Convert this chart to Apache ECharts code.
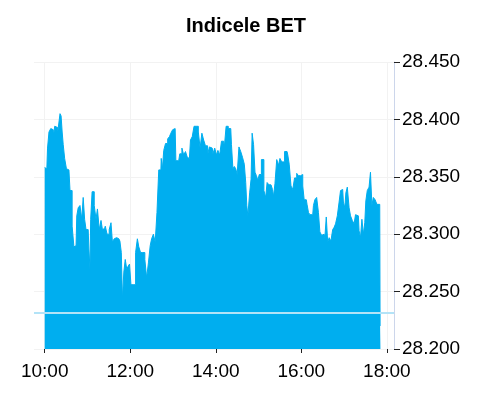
<!DOCTYPE html>
<html>
<head>
<meta charset="utf-8">
<script src="https://cdn.jsdelivr.net/npm/echarts@6/dist/echarts.min.js"></script>
<style>html,body{margin:0;padding:0;background:#fff}#c{width:492px;height:400px}</style>
</head>
<body>
<div id="c"></div>
<script>
// minutes after 10:00
var minutes = [0,3,5,7,10,12,13,15,18,19,21,22,24,25,27,29,32,34,37,40,42,44,46,48,51,53,55,57,59,61,63,64,65,68,71,73,75,78,80,
82,84,86,89,92,94,96,99,101,104,107,108,110,112,114,116,118,120,122,126,129,131,133,136,139,142,144,147,149,151,154,156,159,161,163,164,
166,168,171,174,176,178,181,183,185,188,191,194,196,199,201,203,206,208,211,214,217,219,222,224,227,230,232,235,237,240,242,244,247,249,
251,253,256,259,261,263,265,267,269,271,274,276,279,281,283,284,286,289,290,292,294,296,298,300,302,306,309,311,313,316,319,320,322,324,327,329,331,334,
335,338,340,342,344,347,349,352,355,357,361,363,365,367,369,371,373,376,378,380,383,385,387,390,392,394,396,398,400,403,405,407,409,412,414,416,418,
420,422,423,426,428,430,433,435,437,440,442,444,446,448,450,451,454,456,458,460,462,465,467,470,471];
var values = [28358,28357,28375,28389,28392,28391,28386,28394,28393,28390,28391,28405,28403,28389,28378,28366,28357,28356,28338,28307,28289,28290,28316,28323,28325,28313,28332,28313,28304,28304,28287,28270,28313,28337,28325,28313,28322,28304,28312,
28304,28305,28307,28300,28304,28310,28293,28296,28297,28296,28294,28284,28243,28267,28278,28270,28272,28274,28256,28256,28284,28296,28289,28284,28284,28278,28262,28275,28290,28296,28300,28293,28319,28356,28356,28366,
28356,28373,28379,28383,28385,28388,28391,28392,28364,28364,28370,28375,28369,28372,28367,28366,28382,28385,28394,28394,28389,28375,28388,28382,28377,28369,28376,28375,28370,28375,28369,28373,28369,28381,
28381,28376,28394,28392,28392,28378,28357,28359,28357,28352,28376,28372,28367,28361,28345,28325,28316,28336,28348,28388,28378,28354,28351,28347,28352,28365,28338,28332,28345,28343,28344,28339,28333,28344,28365,28360,28366,28363,
28363,28372,28372,28369,28361,28342,28339,28349,28353,28351,28352,28342,28330,28330,28326,28319,28317,28317,28325,28330,28332,28319,28302,28299,28300,28297,28315,28293,28297,28294,28304,28306,28309,28316,28328,28338,28339,
28328,28323,28336,28341,28323,28316,28312,28309,28317,28316,28303,28297,28313,28300,28310,28329,28338,28341,28354,28325,28332,28330,28326,28326,28220];
var referenceValue = 28232;
var xTickMinutes = [600,720,840,960,1080];
var xTickLabels = ['10:00','12:00','14:00','16:00','18:00'];
var yTicks = [28200,28250,28300,28350,28400,28450];
var titleText = 'Indicele BET';

var data = minutes.map(function(m,i){return [600+m, values[i]];});
var chart = echarts.init(document.getElementById('c'), null, {renderer:'canvas'});
var font = 'Liberation Sans, Arial, sans-serif';
chart.setOption({
  animation:false,
  backgroundColor:'#ffffff',
  title:{text:titleText,left:'center',top:11,textStyle:{fontFamily:font,fontSize:20,fontWeight:'bold',color:'#000'}},
  grid:{left:34,right:98,top:62,bottom:51,containLabel:false},
  xAxis:{
    type:'value',min:585,max:1090,
    axisLine:{show:false},
    axisTick:{show:true,length:4,lineStyle:{color:'#222'},customValues:xTickMinutes},
    axisLabel:{customValues:xTickMinutes,margin:13,fontFamily:font,fontSize:19,color:'#000',
      formatter:function(v){var i=xTickMinutes.indexOf(v);return i>=0?xTickLabels[i]:'';}},
    splitLine:{show:true,lineStyle:{color:'#f2f2f2'}}
  },
  yAxis:{
    type:'value',position:'right',min:yTicks[0],max:yTicks[yTicks.length-1],interval:50,
    axisLine:{show:true,lineStyle:{color:'#ccd6eb'}},
    axisTick:{show:true,length:6,lineStyle:{color:'#222'}},
    axisLabel:{margin:8,fontFamily:font,fontSize:19,color:'#000',
      formatter:function(v){var s=String(v);return s.slice(0,s.length-3)+'.'+s.slice(s.length-3);}},
    splitLine:{show:true,lineStyle:{color:'#f2f2f2'}}
  },
  series:[{
    type:'line',data:data,showSymbol:false,symbol:'none',step:'middle',
    lineStyle:{width:1,color:'#00aeef'},
    areaStyle:{color:'#00aeef',opacity:1},
    markLine:{silent:true,symbol:['none','none'],label:{show:false},
      lineStyle:{color:'#b3e3f7',width:2,type:'solid'},
      data:[{yAxis:referenceValue}]}
  }]
});
</script>
</body>
</html>
